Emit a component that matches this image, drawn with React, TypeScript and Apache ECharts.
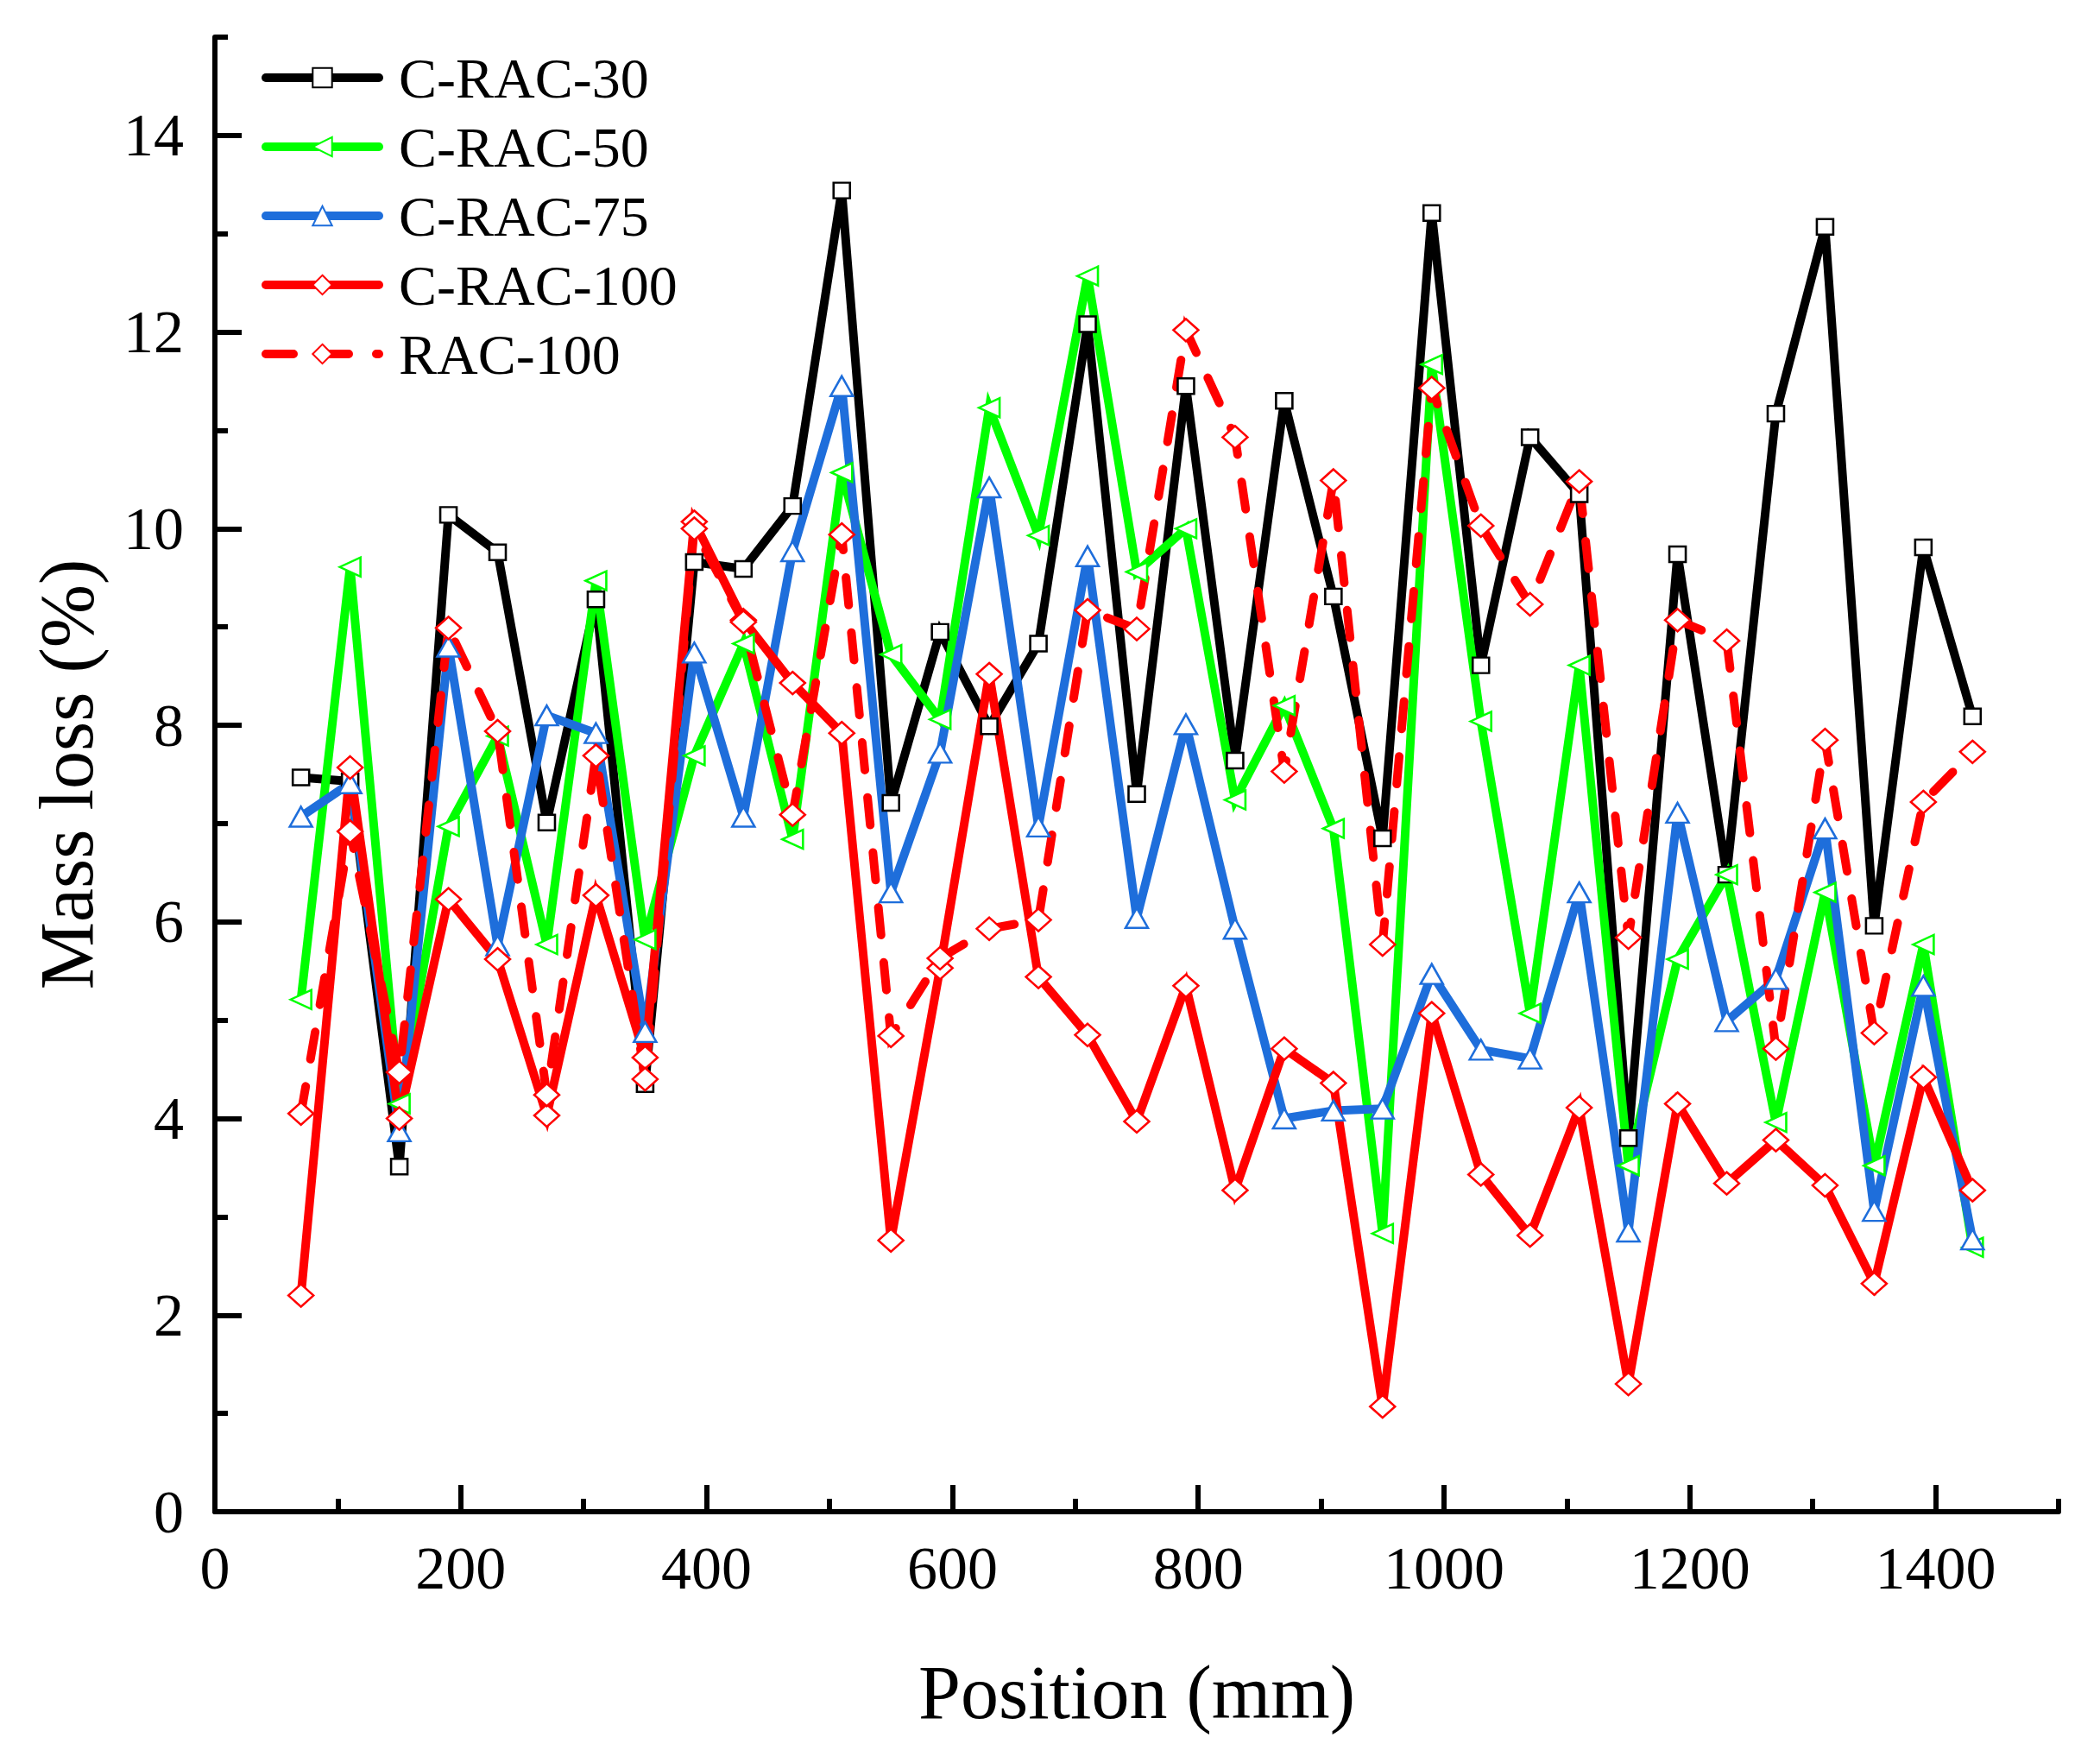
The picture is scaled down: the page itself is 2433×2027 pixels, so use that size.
import React, { useEffect, useRef } from "react";
import * as echarts from "echarts";

const positions = [70, 110, 150, 190, 230, 270, 310, 350, 390, 430, 470, 510, 550, 590, 630, 670, 710, 750, 790, 830, 870, 910, 950, 990, 1030, 1070, 1110, 1150, 1190, 1230, 1270, 1310, 1350, 1390, 1430];

const cRac30 = [7.47, 7.43, 3.51, 10.14, 9.76, 7.01, 9.28, 4.35, 9.66, 9.59, 10.23, 13.44, 7.21, 8.95, 7.99, 8.83, 12.08, 7.3, 11.45, 7.64, 11.3, 9.31, 6.85, 13.21, 8.61, 10.93, 10.35, 3.8, 9.74, 6.48, 11.17, 13.07, 5.96, 9.81, 8.09];
const cRac50 = [5.21, 9.61, 4.15, 6.97, 7.89, 5.77, 9.47, 5.82, 7.69, 8.83, 6.84, 10.57, 8.72, 8.06, 11.23, 9.93, 12.57, 9.56, 10.0, 7.24, 8.2, 6.95, 2.83, 11.67, 8.04, 5.07, 8.61, 3.52, 5.62, 6.48, 3.96, 6.3, 3.52, 5.77, 2.69];
const cRac75 = [7.07, 7.41, 3.87, 8.8, 5.76, 8.1, 7.92, 4.88, 8.74, 7.07, 9.77, 11.45, 6.3, 7.72, 10.42, 6.97, 9.72, 6.04, 8.01, 5.93, 4.0, 4.08, 4.1, 5.47, 4.7, 4.61, 6.3, 2.85, 7.11, 4.99, 5.42, 6.95, 3.06, 5.35, 2.77];
const cRac100 = [2.2, 7.57, 4.0, 6.23, 5.62, 4.03, 6.27, 4.62, 10.07, 9.07, 8.43, 7.92, 2.76, 5.53, 8.52, 5.44, 4.85, 3.97, 5.35, 3.27, 4.71, 4.36, 1.07, 5.07, 3.43, 2.81, 4.11, 1.3, 4.15, 3.34, 3.78, 3.32, 2.32, 4.42, 3.27];
const rac100 = [4.05, 6.92, 4.47, 8.99, 7.94, 4.24, 7.69, 4.4, 10.0, 9.05, 7.09, 9.94, 4.84, 5.63, 5.93, 6.02, 9.17, 8.98, 12.02, 10.93, 7.53, 10.49, 5.77, 11.43, 10.03, 9.23, 10.48, 5.84, 9.07, 8.86, 4.71, 7.85, 4.87, 7.22, 7.73];

const xMajorTicks = [0, 200, 400, 600, 800, 1000, 1200, 1400];
const xMinorTicks = [100, 300, 500, 700, 900, 1100, 1300, 1500];
const yMajorTicks = [0, 2, 4, 6, 8, 10, 12, 14];
const yMinorTicks = [1, 3, 5, 7, 9, 11, 13, 15];

const FONT = "Liberation Serif";

export default function App() {
  const ref = useRef<HTMLDivElement>(null);
  useEffect(() => {
    const chart = echarts.init(ref.current!, null, { renderer: "svg" });
    const mk = (
      name: string,
      vals: number[],
      color: string,
      symbol: string,
      size: number | number[],
      rotate: number,
      dashed: boolean
    ) => ({
      type: "line",
      name,
      data: positions.map((x, i) => [x, vals[i]]),
      symbol,
      symbolSize: size,
      symbolRotate: rotate,
      showSymbol: true,
      xAxisIndex: 0,
      yAxisIndex: 0,
      lineStyle: {
        color,
        width: 10,
        type: dashed ? [32, 32] : "solid",
        cap: "round",
        join: "miter",
      },
      itemStyle: { color: "#ffffff", borderColor: color, borderWidth: 2.5 },
      emphasis: { disabled: true },
    });

    const axisCommon = {
      type: "value",
      splitLine: { show: false },
    };
    const plain = (v: number) => String(v);

    chart.setOption({
      animation: false,
      backgroundColor: "#ffffff",
      grid: { left: 249, right: 48, top: 43, bottom: 276, containLabel: false },
      legend: {
        orient: "vertical",
        left: 303,
        top: 57,
        padding: 0,
        itemWidth: 131,
        itemHeight: 28,
        itemGap: 14,
        selectedMode: false,
        lineStyle: { width: 10, cap: "round" },
        textStyle: { fontFamily: FONT, fontSize: 66, color: "#000", lineHeight: 66, padding: [0, 0, 0, 18] },
        data: ["C-RAC-30", "C-RAC-50", "C-RAC-75", "C-RAC-100", "RAC-100"],
      },
      xAxis: [
        {
          ...axisCommon,
          min: 0,
          max: 1500,
          position: "bottom",
          name: "Position (mm)",
          nameLocation: "middle",
          nameGap: 165,
          nameTextStyle: { fontFamily: FONT, fontSize: 88, color: "#000" },
          axisLine: { show: true, lineStyle: { color: "#000", width: 6 } },
          axisTick: { show: true, inside: true, length: 31, customValues: xMajorTicks, lineStyle: { color: "#000", width: 6 } },
          axisLabel: { show: true, margin: 30, customValues: xMajorTicks, formatter: plain, fontFamily: FONT, fontSize: 70, color: "#000" },
        },
        {
          ...axisCommon,
          min: 0,
          max: 1500,
          position: "bottom",
          axisLine: { show: false },
          axisTick: { show: true, inside: true, length: 15, customValues: xMinorTicks, lineStyle: { color: "#000", width: 6 } },
          axisLabel: { show: false },
        },
      ],
      yAxis: [
        {
          ...axisCommon,
          min: 0,
          max: 15,
          position: "left",
          name: "Mass loss (%)",
          nameLocation: "middle",
          nameGap: 128,
          nameTextStyle: { fontFamily: FONT, fontSize: 88, color: "#000" },
          axisLine: { show: true, lineStyle: { color: "#000", width: 6 } },
          axisTick: { show: true, inside: true, length: 31, customValues: yMajorTicks, lineStyle: { color: "#000", width: 6 } },
          axisLabel: { show: true, margin: 36, customValues: yMajorTicks, formatter: plain, fontFamily: FONT, fontSize: 70, color: "#000" },
        },
        {
          ...axisCommon,
          min: 0,
          max: 15,
          position: "left",
          axisLine: { show: false },
          axisTick: { show: true, inside: true, length: 15, customValues: yMinorTicks, lineStyle: { color: "#000", width: 6 } },
          axisLabel: { show: false },
        },
      ],
      series: [
        mk("C-RAC-30", cRac30, "#000000", "rect", [19, 18], 0, false),
        mk("C-RAC-50", cRac50, "#00ff00", "triangle", [22, 24], 90, false),
        mk("C-RAC-75", cRac75, "#1e6edb", "triangle", [26, 23], 0, false),
        mk("C-RAC-100", cRac100, "#ff0000", "diamond", [29, 26], 0, false),
        mk("RAC-100", rac100, "#ff0000", "diamond", [29, 26], 0, true),
      ],
    });
    return () => chart.dispose();
  }, []);
  return (
    <div
      ref={ref}
      style={{ position: "fixed", left: 0, top: 0, width: 2433, height: 2027, background: "#fff" }}
    />
  );
}
